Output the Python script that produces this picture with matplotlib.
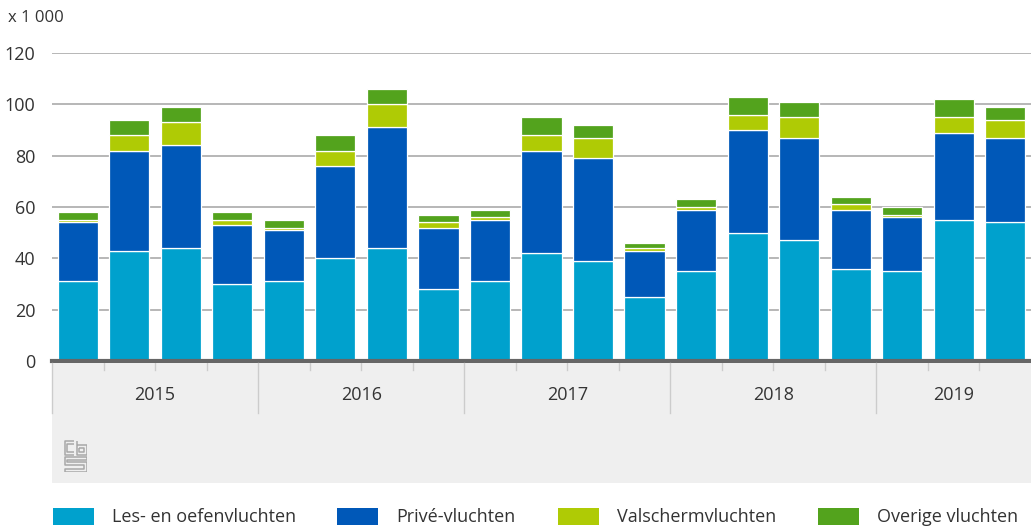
import matplotlib
matplotlib.use("Agg")
import matplotlib.pyplot as plt
from matplotlib.patches import Rectangle, FancyBboxPatch
import numpy as np

plt.rcParams['font.family'] = ['Liberation Sans Narrow', 'Open Sans', 'DejaVu Sans']

years = ['2015', '2016', '2017', '2018', '2019']
quarters_per_year = [4, 4, 4, 4, 3]
series_names = ['Les- en oefenvluchten', 'Privé-vluchten', 'Valschermvluchten', 'Overige vluchten']
colors = ['#00a1cd', '#0058b8', '#afcb05', '#53a31d']

les = [31, 43, 44, 30, 31, 40, 44, 28, 31, 42, 39, 25, 35, 50, 47, 36, 35, 55, 54]
prive = [23, 39, 40, 23, 20, 36, 47, 24, 24, 40, 40, 18, 24, 40, 40, 23, 21, 34, 33]
valscherm = [1, 6, 9, 2, 1, 6, 9, 2, 1, 6, 8, 1, 1, 6, 8, 2, 1, 6, 7]
overige = [3, 6, 6, 3, 3, 6, 6, 3, 3, 7, 5, 2, 3, 7, 6, 3, 3, 7, 5]
series = [les, prive, valscherm, overige]
yticks = [0, 20, 40, 60, 80, 100, 120]

W, H = 1031, 532
fig = plt.figure(figsize=(W / 100, H / 100), dpi=100)

def fx(px):
    return px / W

def fy(py):
    return 1 - py / H

left, right, top, bottom = 52, 1031, 53, 361
ax = fig.add_axes([fx(left), fy(bottom), fx(right - left), fy(top) - fy(bottom)])
n = len(les)
x = np.arange(n)
base = np.zeros(n)
for vals, col in zip(series, colors):
    ax.bar(x, vals, bottom=base, width=0.78, color=col, edgecolor='white', linewidth=0.9, zorder=3)
    base += np.array(vals)

ax.set_xlim(-0.5, n - 0.5)
ax.set_ylim(0, 120)
ax.set_yticks(yticks)
ax.set_yticklabels([str(t) for t in yticks], fontsize=13, color='#333333')
ax.tick_params(axis='y', length=0, pad=12)
ax.set_xticks([])
for s in ['top', 'right', 'left']:
    ax.spines[s].set_visible(False)
ax.spines['bottom'].set_color('#666666')
ax.spines['bottom'].set_linewidth(3)
ax.spines['bottom'].set_zorder(5)
for t in yticks[1:]:
    ax.axhline(t, color='#aaaaaa', linewidth=1.2, zorder=1)

fig.text(fx(8), fy(18), 'x 1 000', fontsize=12, color='#333333', va='center', ha='left')

# category area
cat_top, cat_bot = 363, 483
ax2 = fig.add_axes([fx(left), fy(cat_bot), fx(right - left), fy(cat_top) - fy(cat_bot)])
ax2.set_xlim(-0.5, n - 0.5)
ax2.set_ylim(cat_bot - cat_top, 0)
ax2.axis('off')
ax2.add_patch(FancyBboxPatch((-0.5, 0), n + 1, cat_bot - cat_top,
                             boxstyle='round,pad=0,rounding_size=0.1',
                             facecolor='#efefef', edgecolor='none', zorder=0, clip_on=False))
pos = -0.5
for yr, q in zip(years, quarters_per_year):
    ax2.plot([pos, pos], [0, 50], color='#cccccc', linewidth=1, zorder=1, clip_on=False)
    for k in range(1, q):
        ax2.plot([pos + k, pos + k], [0, 7], color='#cccccc', linewidth=1, zorder=1)
    ax2.text(pos + q / 2, 32, yr, ha='center', va='center', fontsize=13, color='#333333')
    pos += q

# cbs logo (pixel-space axes)
ax3 = fig.add_axes([fx(64), fy(472), fx(23), fy(440) - fy(472)])
ax3.set_xlim(0, 23)
ax3.set_ylim(32, 0)
ax3.axis('off')
lk = dict(color='#a8a8a8', linewidth=1.1, solid_capstyle='butt')
# c
ax3.plot([10, 0.5, 0.5, 10], [1, 1, 14.5, 14.5], **lk)
ax3.plot([10, 3, 3, 10], [4, 4, 12, 12], **lk)
# b
ax3.plot([12.5, 12.5, 22.5, 22.5, 12.5], [0.5, 14.5, 14.5, 5, 5], **lk)
ax3.plot([15, 15, 20, 20, 15], [7.5, 12, 12, 7.5, 7.5], **lk)
# S
ax3.plot([22.5, 0.5, 0.5, 20, 20, 0.5, 0.5, 22.5, 22.5, 3, 3, 22.5, 22.5],
         [17, 17, 24.5, 24.5, 28.5, 28.5, 31.5, 31.5, 21.5, 21.5, 19.5, 19.5, 17], **lk)

# legend
leg_x = [53, 337, 558, 818]
for name, col, lxp in zip(series_names, colors, leg_x):
    fig.patches.append(Rectangle((fx(lxp), fy(525)), fx(41), fy(508) - fy(525),
                                 transform=fig.transFigure, facecolor=col, edgecolor='none'))
    fig.text(fx(lxp + 59), fy(517), name, fontsize=13, color='#333333', va='center', ha='left')

fig.savefig('out.png', dpi=100)
